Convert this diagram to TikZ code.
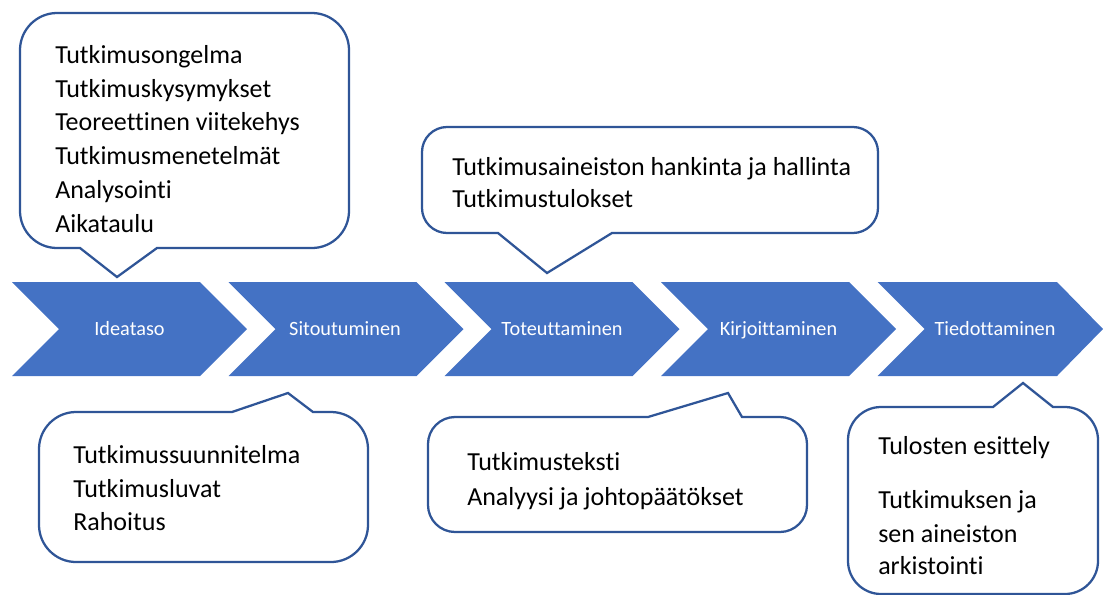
\documentclass[tikz,border=0pt]{standalone}
\usepackage{fontspec}
\setmainfont{Carlito}[Ligatures={NoCommon}]
\definecolor{chev}{HTML}{4472C4}
\definecolor{cborder}{HTML}{2F5597}
\tikzset{
  callout/.style={draw=cborder, line width=1.7pt, fill=white, line join=miter},
  chevron/.style={fill=chev},
  chevtext/.style={text=white, font=\fontsize{15.2}{18}\selectfont, anchor=base, inner sep=0pt},
  ctext/.style={text=black, font=\fontsize{19.5}{23}\selectfont, anchor=base west, inner sep=0pt}
}
% bottom tail: L T R B r lbx tipx tipy rbx
\newcommand\calloutbot[9]{%
  \draw[callout] (#6,#4) -- (#7,#8) -- (#9,#4) -- ({#3-#5},#4)
    .. controls ({#3-0.45*#5},#4) and (#3,{#4-0.45*#5}) .. (#3,{#4-#5})
    -- (#3,{#2+#5})
    .. controls (#3,{#2+0.45*#5}) and ({#3-0.45*#5},#2) .. ({#3-#5},#2)
    -- ({#1+#5},#2)
    .. controls ({#1+0.45*#5},#2) and (#1,{#2+0.45*#5}) .. (#1,{#2+#5})
    -- (#1,{#4-#5})
    .. controls (#1,{#4-0.45*#5}) and ({#1+0.45*#5},#4) .. ({#1+#5},#4)
    -- cycle;}
% top tail: L T R B r lbx tipx tipy rbx
\newcommand\callouttop[9]{%
  \draw[callout] (#6,#2) -- (#7,#8) -- (#9,#2) -- ({#3-#5},#2)
    .. controls ({#3-0.45*#5},#2) and (#3,{#2+0.45*#5}) .. (#3,{#2+#5})
    -- (#3,{#4-#5})
    .. controls (#3,{#4-0.45*#5}) and ({#3-0.45*#5},#4) .. ({#3-#5},#4)
    -- ({#1+#5},#4)
    .. controls ({#1+0.45*#5},#4) and (#1,{#4-0.45*#5}) .. (#1,{#4-#5})
    -- (#1,{#2+#5})
    .. controls (#1,{#2+0.45*#5}) and ({#1+0.45*#5},#2) .. ({#1+#5},#2)
    -- cycle;}
\newcommand\chevshape[1]{%
  \fill[chevron] (#1,282) -- ({#1+188},282) -- ({#1+235},329) -- ({#1+188},376)
    -- (#1,376) -- ({#1+47},329) -- cycle;}
\begin{document}
\begin{tikzpicture}[x=0.75pt,y=-0.75pt]
\useasboundingbox (0,0) rectangle (1103,594);
\clip (0,0) rectangle (1103,594);

% chevrons
\chevshape{12}
\chevshape{228.5}
\chevshape{444.5}
\chevshape{661}
\fill[chevron] (877.5,282) -- (1057,282) -- (1103,329) -- (1057,376)
    -- (877.5,376) -- (924.5,329) -- cycle;
\node[chevtext] (c1) at (129.5,335) {Ideataso};
\node[chevtext] (c2) at (345,335) {Sitoutuminen};
\node[chevtext] (c3) at (562,335) {Toteuttaminen};
\node[chevtext] (c4) at (778.5,335) {Kirjoittaminen};
\node[chevtext] (c5) at (995,335) {Tiedottaminen};

% callout 1 (Ideataso)
\calloutbot{20}{13}{349}{248}{37}{80}{117}{277}{157}
\node[ctext] (a1) at (55,63) {Tutkimusongelma};
\node[ctext] (a2) at (55,97) {Tutkimuskysymykset};
\node[ctext] (a3) at (55,130.5) {Teoreettinen viitekehys};
\node[ctext] (a4) at (55,164.5) {Tutkimusmenetelmät};
\node[ctext] (a5) at (55,198) {Analysointi};
\node[ctext] (a6) at (55,232) {Aikataulu};

% callout 2 (Sitoutuminen)
\callouttop{39}{412}{368}{562}{37}{232}{288}{393}{313}
\node[ctext] (b1) at (73,463) {Tutkimussuunnitelma};
\node[ctext] (b2) at (73,497) {Tutkimusluvat};
\node[ctext] (b3) at (73,530) {Rahoitus};

% callout 3 (Toteuttaminen)
\calloutbot{422}{127}{878}{233}{25}{498}{547}{273}{612}
\node[ctext] (d1) at (452,175) {Tutkimusaineiston hankinta ja hallinta};
\node[ctext] (d2) at (452,207) {Tutkimustulokset};

% callout 4 (Kirjoittaminen)
\callouttop{428}{417}{807}{532}{27}{648}{728}{393}{742}
\node[ctext] (e1) at (467,470) {Tutkimusteksti};
\node[ctext] (e2) at (467,505) {Analyysi ja johtopäätökset};

% callout 5 (Tiedottaminen)
\callouttop{848}{407}{1098}{594}{33}{993}{1023}{383}{1053}
\node[ctext] (f1) at (878,454) {Tulosten esittely};
\node[ctext] (f2) at (878,508) {Tutkimuksen ja};
\node[ctext] (f3) at (878,542) {sen aineiston};
\node[ctext] (f4) at (878,574) {arkistointi};
\end{tikzpicture}
\end{document}
